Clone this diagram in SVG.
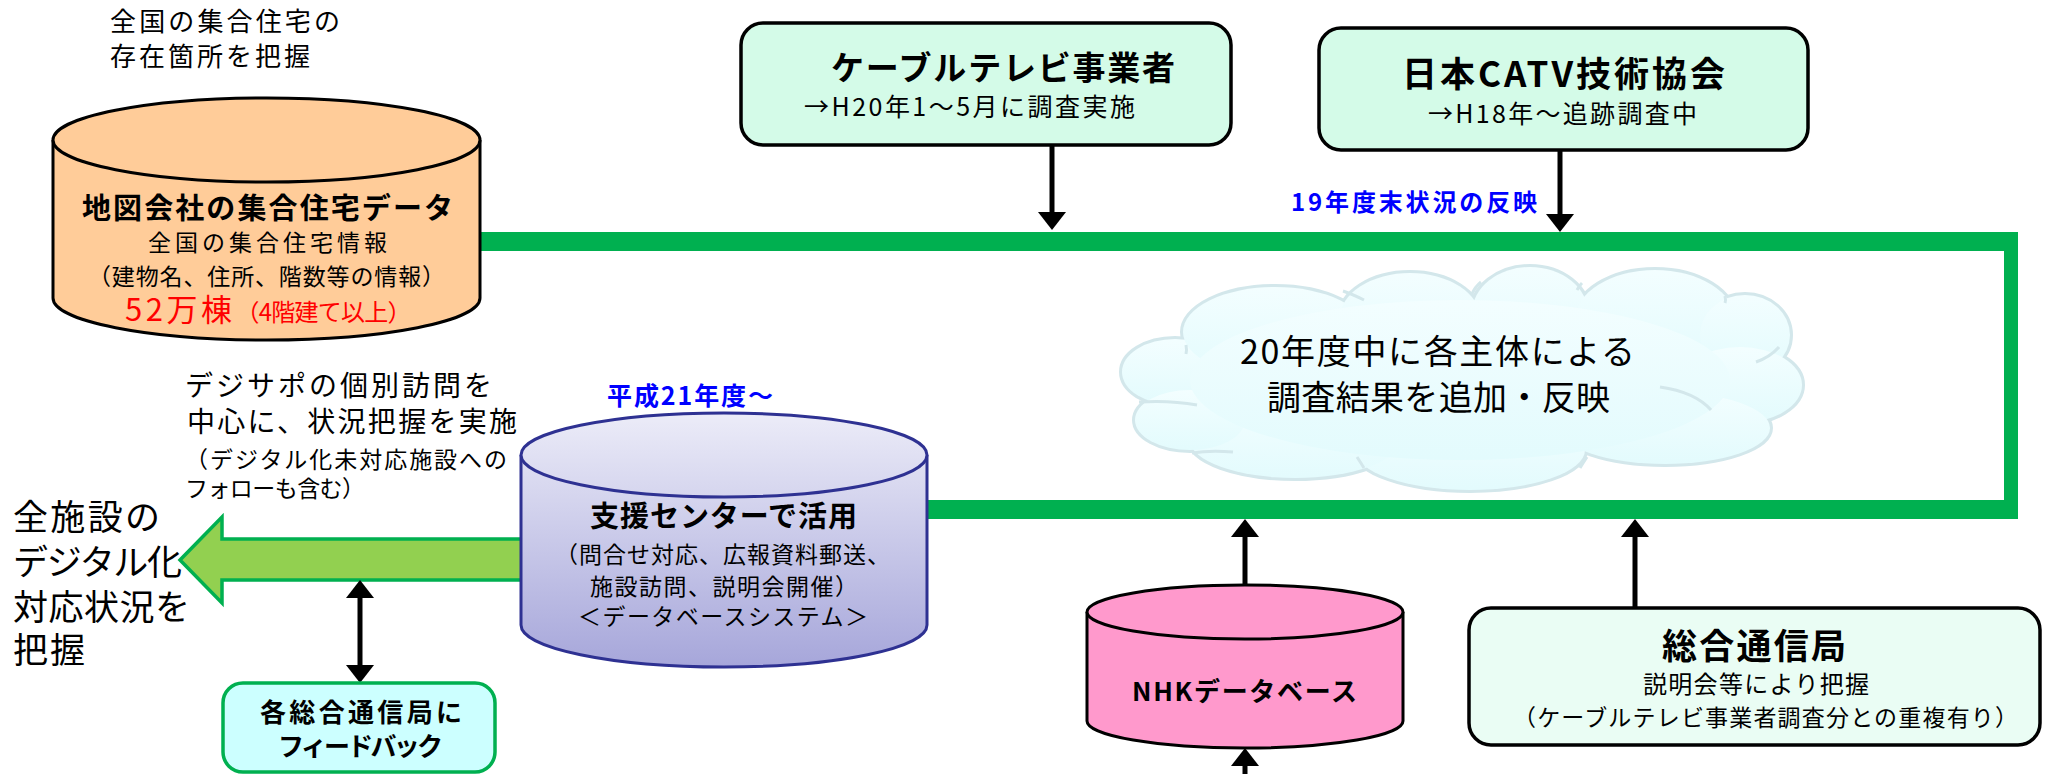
<svg xmlns="http://www.w3.org/2000/svg" xmlns:xlink="http://www.w3.org/1999/xlink" width="2045" height="774" viewBox="0 0 2045 774">
<style>
.t{font-family:"Noto Sans CJK JP","Noto Sans",sans-serif;fill:#000}
.b{font-weight:bold}
.blue{fill:#0000ff}
.red{fill:#ff0000}
.cyl{stroke:#000;stroke-width:3}
.box{stroke:#000;stroke-width:3.5}
.arr{stroke:#000;stroke-width:5;fill:none}
.tick{fill:none;stroke:#d3e7eb;stroke-width:3}
</style>
<defs>
<marker id="ah" viewBox="0 0 18 28" refX="0" refY="14" markerWidth="18" markerHeight="28" markerUnits="userSpaceOnUse" orient="auto-start-reverse">
<path d="M0,0 L18,14 L0,28 Z" fill="#000"/>
</marker>
<linearGradient id="pg" gradientUnits="userSpaceOnUse" x1="0" y1="413" x2="0" y2="668">
<stop offset="0" stop-color="#ececf8"/>
<stop offset="1" stop-color="#a6a6da"/>
</linearGradient>
<linearGradient id="cg" x1="0" y1="0" x2="0" y2="1">
<stop offset="0" stop-color="#f3feff"/>
<stop offset="1" stop-color="#e3fbfd"/>
</linearGradient>
<g id="cloudShape">
<ellipse cx="1175" cy="372" rx="53" ry="33"/>
<ellipse cx="1275" cy="332" rx="92" ry="45"/>
<ellipse cx="1410" cy="318" rx="70" ry="45"/>
<ellipse cx="1530" cy="313" rx="58" ry="46"/>
<ellipse cx="1655" cy="320" rx="80" ry="50"/>
<ellipse cx="1745" cy="335" rx="45" ry="40"/>
<ellipse cx="1740" cy="385" rx="62" ry="38"/>
<ellipse cx="1665" cy="428" rx="105" ry="36"/>
<ellipse cx="1470" cy="450" rx="115" ry="40"/>
<ellipse cx="1295" cy="440" rx="105" ry="38"/>
<ellipse cx="1190" cy="420" rx="55" ry="30"/>
<ellipse cx="1460" cy="380" rx="270" ry="80"/>
</g>
</defs>
<rect width="2045" height="774" fill="#fff"/>

<g id="connectors">
<rect x="480" y="232" width="1538" height="19" fill="#00b050"/>
<rect x="2004" y="232" width="14" height="287" fill="#00b050"/>
<rect x="927" y="500" width="1091" height="19" fill="#00b050"/>
<polygon points="180,560 222,517 222,539 530,539 530,580 222,580 222,603" fill="#92d050" stroke="#00b050" stroke-width="3.5"/>
<line class="arr" x1="1052" y1="145" x2="1052" y2="212" marker-end="url(#ah)"/>
<line class="arr" x1="1560" y1="150" x2="1560" y2="214" marker-end="url(#ah)"/>
<line class="arr" x1="1245" y1="585" x2="1245" y2="537" marker-end="url(#ah)"/>
<line class="arr" x1="1635" y1="608" x2="1635" y2="537" marker-end="url(#ah)"/>
<line class="arr" x1="1245" y1="774" x2="1245" y2="766" marker-end="url(#ah)"/>
<line class="arr" x1="360" y1="598" x2="360" y2="665" marker-start="url(#ah)" marker-end="url(#ah)"/>
</g>

<g id="note-top-left">
<text class="t" x="110" y="31" font-size="26" textLength="230">全国の集合住宅の</text>
<text class="t" x="110" y="66" font-size="26" textLength="200">存在箇所を把握</text>
</g>

<g id="map-data">
<path class="cyl" d="M53,140 V298 A213.5,42 0 0 0 480,298 V140" fill="#ffcc99"/>
<ellipse class="cyl" cx="266.5" cy="140" rx="213.5" ry="42" fill="#ffcc99"/>
<text class="t b" x="82" y="219" font-size="29" textLength="371">地図会社の集合住宅データ</text>
<text class="t" x="148" y="251" font-size="23" textLength="239">全国の集合住宅情報</text>
<text class="t" x="88" y="285" font-size="23" textLength="357">（建物名、住所、階数等の情報）</text>
<text class="t red" x="125" y="321"><tspan font-size="31" textLength="107">52万棟</tspan><tspan font-size="24" textLength="176">（4階建て以上）</tspan></text>
</g>

<g id="cable-tv">
<rect class="box" x="741" y="23" width="490" height="122" rx="22" fill="#d4fbe8"/>
<text class="t b" x="831" y="80" font-size="33" textLength="344">ケーブルテレビ事業者</text>
<text class="t" x="804" y="116" font-size="25" textLength="331">→H20年1～5月に調査実施</text>
</g>

<g id="catv">
<rect class="box" x="1319" y="28" width="489" height="122" rx="22" fill="#d4fbe8"/>
<text class="t b" x="1402" y="87" font-size="35" textLength="323">日本CATV技術協会</text>
<text class="t" x="1428" y="123" font-size="25" textLength="269">→H18年～追跡調査中</text>
</g>

<text class="t b blue" x="1291" y="211" font-size="24" textLength="246">19年度末状況の反映</text>

<g id="cloud">
<use xlink:href="#cloudShape" href="#cloudShape" fill="none" stroke="#d3e7eb" stroke-width="6"/>
<use xlink:href="#cloudShape" href="#cloudShape" fill="url(#cg)" stroke="none"/>
<path class="tick" d="M1139,402 Q1170,400 1197,405"/>
<path class="tick" d="M1233,452 Q1210,450 1192,453"/>
<path class="tick" d="M1186,345 Q1187,350 1186,354"/>
<path class="tick" d="M1364,300 Q1352,294 1343,291"/>
<path class="tick" d="M1481,282 Q1475,287 1472,294"/>
<path class="tick" d="M1582,283 Q1579,286 1577,290"/>
<path class="tick" d="M1725,296 Q1726,300 1725,303"/>
<path class="tick" d="M1756,362 Q1770,357 1779,347"/>
<path class="tick" d="M1660,387 Q1695,392 1711,410"/>
<path class="tick" d="M1587,457 Q1583,463 1580,468"/>
<path class="tick" d="M1357,457 Q1361,463 1364,468"/>
<text class="t" x="1240" y="364" font-size="34" textLength="395">20年度中に各主体による</text>
<text class="t" x="1267" y="410" font-size="34" textLength="343">調査結果を追加・反映</text>
</g>

<g id="note-digisapo">
<text class="t" x="185" y="396" font-size="28" textLength="307">デジサポの個別訪問を</text>
<text class="t" x="187" y="432" font-size="28" textLength="330">中心に、状況把握を実施</text>
<text class="t" x="185" y="468" font-size="23" textLength="322">（デジタル化未対応施設への</text>
<text class="t" x="185" y="497" font-size="23" textLength="180">フォローも含む）</text>
</g>

<g id="note-all-facilities">
<text class="t" x="13" y="530" font-size="35" textLength="147">全施設の</text>
<text class="t" x="13" y="575" font-size="35" textLength="169">デジタル化</text>
<text class="t" x="13" y="620" font-size="35" textLength="177">対応状況を</text>
<text class="t" x="13" y="663" font-size="35" textLength="72">把握</text>
</g>

<g id="support-center">
<text class="t b blue" x="607" y="405" font-size="25" textLength="166">平成21年度～</text>
<path d="M521,455 V625 A203,42 0 0 0 927,625 V455" fill="url(#pg)" stroke="#2e3192" stroke-width="3"/>
<ellipse cx="724" cy="455" rx="203" ry="42" fill="url(#pg)" stroke="#2e3192" stroke-width="3"/>
<text class="t b" x="590" y="527" font-size="29" textLength="267">支援センターで活用</text>
<text class="t" x="555" y="563" font-size="23" textLength="335">（問合せ対応、広報資料郵送、</text>
<text class="t" x="590" y="595" font-size="23" textLength="268">施設訪問、説明会開催）</text>
<text class="t" x="578" y="625" font-size="23" textLength="290">＜データベースシステム＞</text>
</g>

<g id="feedback">
<rect x="223" y="683" width="272" height="89" rx="20" fill="#ccffff" stroke="#00b050" stroke-width="3.5"/>
<text class="t b" x="260" y="722" font-size="26" textLength="202">各総合通信局に</text>
<text class="t b" x="278" y="756" font-size="26" textLength="165">フィードバック</text>
</g>

<g id="nhk">
<path class="cyl" d="M1087,612 V721 A158,27 0 0 0 1403,721 V612" fill="#ff99cc"/>
<ellipse class="cyl" cx="1245" cy="612" rx="158" ry="27" fill="#ff99cc"/>
<text class="t b" x="1132" y="701" font-size="26" textLength="225">NHKデータベース</text>
</g>

<g id="bureau">
<rect class="box" x="1469" y="608" width="571" height="137" rx="22" fill="#eafdf4"/>
<text class="t b" x="1662" y="659" font-size="35" textLength="184">総合通信局</text>
<text class="t" x="1643" y="693" font-size="24" textLength="226">説明会等により把握</text>
<text class="t" x="1513" y="726" font-size="23" textLength="505">（ケーブルテレビ事業者調査分との重複有り）</text>
</g>
</svg>
